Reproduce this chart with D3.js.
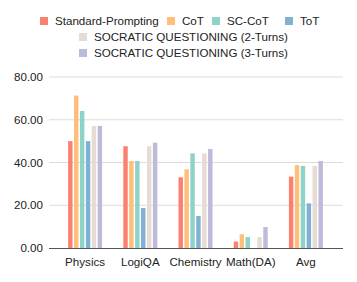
<!DOCTYPE html>
<html>
<head>
<meta charset="utf-8">
<script src="https://cdn.jsdelivr.net/npm/d3@7"></script>
<style>
  body { margin: 0; background: #fff; }
  text { font-family: "Liberation Sans", Arial, sans-serif; fill: #222; }
</style>
</head>
<body>
<div id="chart"></div>
<script>
// grouped bars: accuracy of prompting methods per task

const categories = ["Physics", "LogiQA", "Chemistry", "Math(DA)", "Avg"];
const methods = ["Standard-Prompting", "CoT", "SC-CoT", "ToT",
  "SOCRATIC QUESTIONING (2-Turns)", "SOCRATIC QUESTIONING (3-Turns)"];
const colors = ["#fb8072", "#fdbf7a", "#8dd3c7", "#80b1d3", "#e6dcd3", "#bebada"];

// values per method, in category order
const standardVals = [50.0, 47.6, 33.1, 3.0, 33.4];
const cotVals      = [71.3, 40.7, 36.8, 6.4, 38.8];
const scCotVals    = [64.1, 40.7, 44.3, 5.1, 38.4];
const totVals      = [50.0, 18.7, 15.0, 0.0, 20.9];
const sq2Vals      = [57.1, 47.6, 44.3, 5.1, 38.4];
const sq3Vals      = [57.1, 49.3, 46.3, 9.8, 40.7];
const series = [standardVals, cotVals, scCotVals, totVals, sq2Vals, sq3Vals];

const yTicks = [0, 20, 40, 60, 80];
const FS = 11.6;

const W = 357, H = 282;
const svg = d3.select("#chart").append("svg")
  .attr("width", W).attr("height", H);

const plotL = 49, plotR = 343;
const y = d3.scaleLinear().domain([0, 80]).range([248, 77]);
const x = d3.scaleBand().domain(categories).range([57.5, 333.5]);
const inner = d3.scaleBand().domain(d3.range(methods.length))
  .range([-17, 17]).paddingInner(0.25);

// gridlines
svg.append("g").selectAll("line")
  .data(yTicks.filter(d => d > 0))
  .join("line")
    .attr("x1", plotL).attr("x2", plotR)
    .attr("y1", d => y(d)).attr("y2", d => y(d))
    .attr("stroke", "#dcdcdc").attr("stroke-width", 1);

// y tick labels
svg.append("g").selectAll("text")
  .data(yTicks)
  .join("text")
    .attr("x", 43).attr("y", d => y(d))
    .attr("dy", "0.35em")
    .attr("text-anchor", "end")
    .attr("font-size", FS)
    .text(d => d3.format(".2f")(d));

// bars
const groups = svg.append("g").selectAll("g")
  .data(categories)
  .join("g")
    .attr("transform", c => `translate(${x(c) + x.bandwidth() / 2},0)`);

groups.selectAll("rect")
  .data((c, ci) => series.map((s, mi) => ({mi, v: s[ci]})))
  .join("rect")
    .attr("x", d => inner(d.mi))
    .attr("width", inner.bandwidth())
    .attr("y", d => y(d.v))
    .attr("height", d => y(0) - y(d.v))
    .attr("fill", d => colors[d.mi]);

// baseline
svg.append("line")
  .attr("x1", plotL).attr("x2", plotR)
  .attr("y1", y(0) + 0.5).attr("y2", y(0) + 0.5)
  .attr("stroke", "#555").attr("stroke-width", 1);

// category labels
svg.append("g").selectAll("text")
  .data(categories)
  .join("text")
    .attr("x", c => x(c) + x.bandwidth() / 2)
    .attr("y", 262)
    .attr("dy", "0.35em")
    .attr("text-anchor", "middle")
    .attr("font-size", FS)
    .text(c => c);

// legend
const legendPos = [
  [40, 21], [167, 21], [212, 21], [285, 21],
  [79, 37], [79, 53]
];
const legend = svg.append("g").selectAll("g")
  .data(methods)
  .join("g")
    .attr("transform", (m, i) => `translate(${legendPos[i][0]},${legendPos[i][1]})`);
legend.append("rect")
  .attr("x", 0).attr("y", -4).attr("width", 8).attr("height", 8)
  .attr("fill", (m, i) => colors[i]);
legend.append("text")
  .attr("x", 15).attr("dy", "0.35em")
  .attr("font-size", FS)
  .text(m => m);
</script>
</body>
</html>
